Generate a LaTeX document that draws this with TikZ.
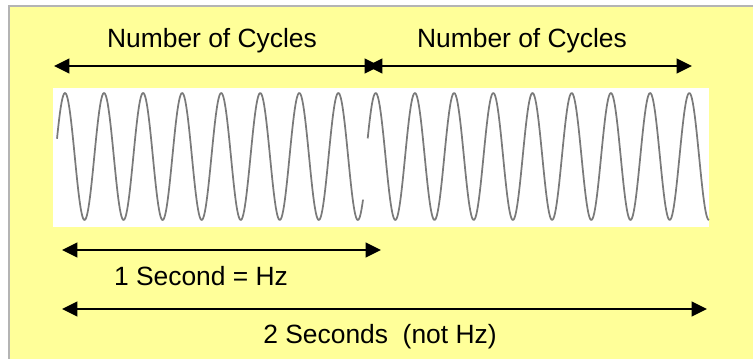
\documentclass[tikz,border=0pt]{standalone}
\usepackage{fontspec}
\setmainfont{Liberation Sans}
\usetikzlibrary{arrows.meta}
\definecolor{paleyellow}{HTML}{FFFF99}
\definecolor{framegray}{HTML}{B4B4B4}
\definecolor{wavegray}{HTML}{7A7A7A}
\begin{document}
\begin{tikzpicture}[x=0.75pt, y=-0.75pt,
      lbl/.style={anchor=base, inner sep=0pt, font=\fontsize{19.8}{24}\selectfont},
      span/.style={{Triangle[length=11.5pt,width=11pt]}-{Triangle[length=11.5pt,width=11pt]}, line width=1.5pt},
      wave/.style={draw=wavegray, line width=1.3pt, line join=round}]
      \useasboundingbox (0,0) rectangle (753,359);
      \clip (0,0) rectangle (753,359);
      \draw[framegray, line width=1.5pt, fill=paleyellow] (9,6) rectangle (780,380);
      \node[fill=white, inner sep=0pt, minimum width=492pt, minimum height=104.25pt] (strip) at (381,157.5) {};
      % the two wave trains
      \draw[wave] plot[domain=57:363, samples=400] (\x, {156.5-63.5*cos(9.2190*(\x-65))});
      \draw[wave] plot[domain=367.7:709, samples=400] (\x, {156.5-63.5*cos(9.1837*(\x-375.7))});
      \coordinate (cl) at (54,66);   \coordinate (cm1) at (380,66);
      \coordinate (cm2) at (367,66); \coordinate (cr) at (692,66);
      \coordinate (sl) at (62,250);  \coordinate (sr) at (381,250);
      \coordinate (dl) at (62,309);  \coordinate (dr) at (707,309);
      \node[lbl] (cyc1) at (212,47.5) {Number of Cycles};
      \node[lbl] (cyc2) at (522,47.5) {Number of Cycles};
      \node[lbl] (onesec) at (201,286) {1 Second = Hz};
      \node[lbl] (twosec) at (380,344) {2 Seconds\ \ (not Hz)};
      \draw[span] (cl) -- (cm1);
      \draw[span] (cm2) -- (cr);
      \draw[span] (sl) -- (sr);
      \draw[span] (dl) -- (dr);
\end{tikzpicture}
\end{document}
